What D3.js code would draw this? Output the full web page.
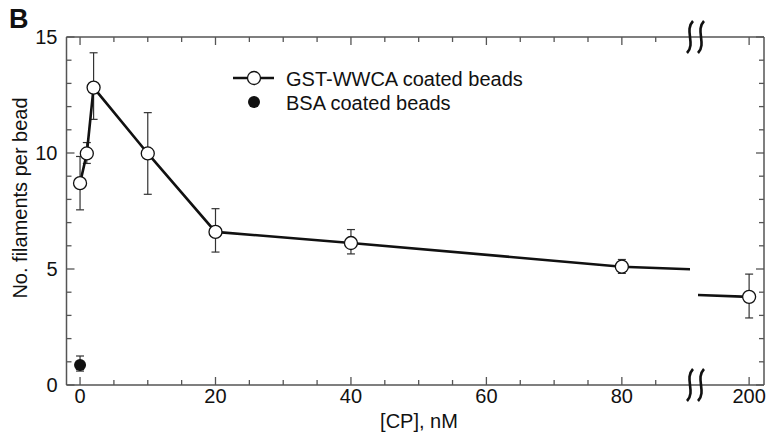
<!DOCTYPE html>
<html>
<head>
<meta charset="utf-8">
<script src="https://cdn.jsdelivr.net/npm/d3@7"></script>
<style>
  body { margin: 0; background: white; }
  svg { display: block; font-family: "Liberation Sans", Arial, sans-serif; }
</style>
</head>
<body>
<div id="chart"></div>
<script>
// data
const cpConc   = [0, 1, 2, 10, 20, 40, 80, 200];
const gstMean  = [8.7, 9.98, 12.82, 9.98, 6.6, 6.12, 5.1, 3.8];
const gstLow   = [7.55, 9.55, 11.45, 8.22, 5.73, 5.65, 4.81, 2.89];
const gstHigh  = [9.85, 10.45, 14.32, 11.74, 7.6, 6.7, 5.41, 4.78];
const bsaConc  = [0];
const bsaMean  = [0.86];
const bsaLow   = [0.6];
const bsaHigh  = [1.25];
const seriesNames = ["GST-WWCA coated beads", "BSA coated beads"];
const xMajor   = [0, 20, 40, 60, 80, 200];
const xMinor   = [5, 10, 15, 25, 30, 35, 45, 50, 55, 65, 70, 75, 85];
const yMajor   = [0, 5, 10, 15];
const yMinor   = [1, 2, 3, 4, 6, 7, 8, 9, 11, 12, 13, 14];

(function chart(){
const width = 769, height = 435;
const left = 66.5, right = 764, top = 37, bottom = 385;
const breakX = 695, gapL = 690, gapR = 698;

const svg = d3.select("#chart")
  .append("svg")
  .attr("width", width)
  .attr("height", height);

// two x segments with the same units per pixel, separated by the break
const xLeft = d3.scaleLinear().domain([-2, 90.8]).range([left, breakX]);
const xRight = d3.scaleLinear().domain([192, 202.2]).range([breakX, right]);
const xs = v => (v <= 90.8 ? xLeft(v) : xRight(v));
const y = d3.scaleLinear().domain([0, 15]).range([bottom, top]);

const defs = svg.append("defs");
defs.append("clipPath").attr("id", "clipL")
  .append("rect").attr("x", left).attr("y", 0).attr("width", gapL - left).attr("height", height);
defs.append("clipPath").attr("id", "clipR")
  .append("rect").attr("x", gapR).attr("y", 0).attr("width", right - gapR).attr("height", height);

const gst = cpConc.map((c, i) => ({x: c, y: gstMean[i], lo: gstLow[i], hi: gstHigh[i]}));
const bsa = bsaConc.map((c, i) => ({x: c, y: bsaMean[i], lo: bsaLow[i], hi: bsaHigh[i]}));

// frame
const axisColor = "#555";
const frame = svg.append("g").attr("stroke", axisColor).attr("stroke-width", 1.5);
frame.append("line").attr("x1", left).attr("x2", right).attr("y1", bottom).attr("y2", bottom);
frame.append("line").attr("x1", left).attr("x2", right).attr("y1", top).attr("y2", top);
frame.append("line").attr("x1", left).attr("x2", left).attr("y1", top).attr("y2", bottom);
frame.append("line").attr("x1", right).attr("x2", right).attr("y1", top).attr("y2", bottom);

// ticks (inward, mirrored on all sides)
const ticks = svg.append("g").attr("stroke", axisColor).attr("stroke-width", 1.3);
const xt = xMajor.map(v => ({v, len: 8})).concat(xMinor.map(v => ({v, len: 5})));
ticks.selectAll(".xb").data(xt).join("line")
  .attr("x1", d => xs(d.v)).attr("x2", d => xs(d.v))
  .attr("y1", bottom).attr("y2", d => bottom - d.len);
ticks.selectAll(".xt").data(xt).join("line")
  .attr("x1", d => xs(d.v)).attr("x2", d => xs(d.v))
  .attr("y1", top).attr("y2", d => top + d.len);
const yt = yMajor.map(v => ({v, len: 8})).concat(yMinor.map(v => ({v, len: 5})));
ticks.selectAll(".yl").data(yt).join("line")
  .attr("y1", d => y(d.v)).attr("y2", d => y(d.v))
  .attr("x1", left).attr("x2", d => left + d.len);
ticks.selectAll(".yr").data(yt).join("line")
  .attr("y1", d => y(d.v)).attr("y2", d => y(d.v))
  .attr("x1", right).attr("x2", d => right - d.len);

// tick labels
svg.append("g")
  .attr("font-size", 20)
  .attr("fill", "#111")
  .attr("text-anchor", "middle")
  .selectAll("text")
  .data(xMajor)
  .join("text")
  .attr("x", d => xs(d))
  .attr("y", bottom + 18)
  .text(d => d);
svg.append("g")
  .attr("font-size", 20)
  .attr("fill", "#111")
  .attr("text-anchor", "end")
  .selectAll("text")
  .data(yMajor)
  .join("text")
  .attr("x", left - 9)
  .attr("y", d => y(d) + 7)
  .text(d => d);

// axis titles
svg.append("text")
  .attr("x", 419).attr("y", 428)
  .attr("text-anchor", "middle")
  .attr("font-size", 20).attr("fill", "#111")
  .text("[CP], nM");
svg.append("text")
  .attr("transform", "translate(27,198) rotate(-90)")
  .attr("text-anchor", "middle")
  .attr("font-size", 20).attr("fill", "#111")
  .text("No. filaments per bead");
svg.append("text")
  .attr("x", 9).attr("y", 28)
  .attr("font-size", 27).attr("font-weight", "bold").attr("fill", "#111")
  .text("B");

// axis break marks
const squig = (cx, y0, y1) => {
  const h = y1 - y0;
  return `M${cx + 3},${y0} C${cx - 6},${y0 + h * 0.3} ${cx + 6},${y0 + h * 0.7} ${cx - 3},${y1}`;
};
const breaks = svg.append("g").attr("fill", "none").attr("stroke", "#111").attr("stroke-width", 2.6);
[[top - 16, top + 16], [bottom - 16, bottom + 16]].forEach(([a, b]) => {
  breaks.append("path").attr("d", squig(breakX - 5, a, b));
  breaks.append("path").attr("d", squig(breakX + 6, a, b));
});

// error bars
const eb = svg.append("g").attr("stroke", "#333").attr("stroke-width", 1.2);
const allPts = gst.concat(bsa);
eb.selectAll(".v").data(allPts).join("line")
  .attr("x1", d => xs(d.x)).attr("x2", d => xs(d.x))
  .attr("y1", d => y(d.lo)).attr("y2", d => y(d.hi));
eb.selectAll(".lo").data(allPts).join("line")
  .attr("x1", d => xs(d.x) - 4).attr("x2", d => xs(d.x) + 4)
  .attr("y1", d => y(d.lo)).attr("y2", d => y(d.lo));
eb.selectAll(".hi").data(allPts).join("line")
  .attr("x1", d => xs(d.x) - 4).attr("x2", d => xs(d.x) + 4)
  .attr("y1", d => y(d.hi)).attr("y2", d => y(d.hi));

// connecting line, drawn once per segment and clipped at the break
[[xLeft, "clipL"], [xRight, "clipR"]].forEach(([sx, clip]) => {
  svg.append("path")
    .datum(gst)
    .attr("clip-path", `url(#${clip})`)
    .attr("fill", "none")
    .attr("stroke", "#111")
    .attr("stroke-width", 2.6)
    .attr("d", d3.line().x(d => sx(d.x)).y(d => y(d.y)));
});

// markers
svg.append("g")
  .selectAll("circle")
  .data(gst)
  .join("circle")
  .attr("cx", d => xs(d.x))
  .attr("cy", d => y(d.y))
  .attr("r", 6.5)
  .attr("fill", "white")
  .attr("stroke", "#111")
  .attr("stroke-width", 1.3);
svg.append("g")
  .selectAll("circle")
  .data(bsa)
  .join("circle")
  .attr("cx", d => xs(d.x))
  .attr("cy", d => y(d.y))
  .attr("r", 6)
  .attr("fill", "#111");

// legend
const lg = svg.append("g");
lg.append("line").attr("x1", 233).attr("x2", 274).attr("y1", 78).attr("y2", 78)
  .attr("stroke", "#111").attr("stroke-width", 2.6);
lg.append("circle").attr("cx", 254).attr("cy", 78).attr("r", 6.5)
  .attr("fill", "white").attr("stroke", "#111").attr("stroke-width", 1.3);
lg.append("circle").attr("cx", 254).attr("cy", 102).attr("r", 6).attr("fill", "#111");
lg.selectAll("text").data(seriesNames).join("text")
  .attr("x", 286)
  .attr("y", (d, i) => 86 + i * 24)
  .attr("font-size", 20)
  .attr("fill", "#111")
  .text(d => d);
})();
</script>
</body>
</html>
